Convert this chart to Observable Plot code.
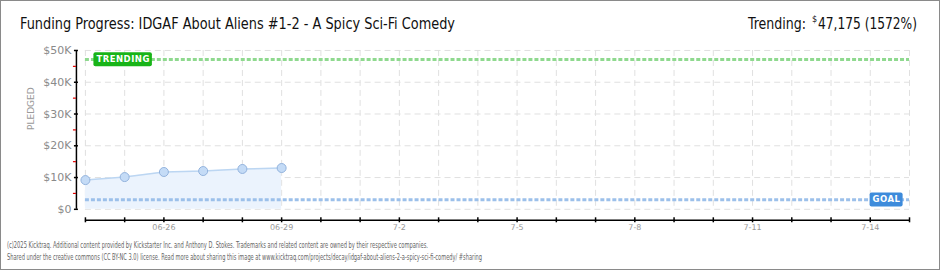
<!DOCTYPE html>
<html><head><meta charset="utf-8">
<script src="https://cdn.jsdelivr.net/npm/d3@7"></script>
<script src="https://cdn.jsdelivr.net/npm/@observablehq/plot@0.6"></script>
<style>
html,body{margin:0;padding:0;background:#fff;}
#wrap{position:relative;width:940px;height:270px;box-sizing:border-box;border:1px solid #8a8a8a;overflow:hidden;background:#fff;}
#head,#foot,#chart{position:absolute;left:-1px;}
#head{top:-1px;}
#chart{top:35px;}
#foot{top:235px;}
svg text{font-family:"DejaVu Sans",sans-serif;}
</style>
</head><body>
<div id="wrap">
  <svg id="head" width="940" height="36"></svg>
  <div id="chart"></div>
  <svg id="foot" width="940" height="34"></svg>
</div>
<script>
// ---- data ----
const titleText = "Funding Progress: IDGAF About Aliens #1-2 - A Spicy Sci-Fi Comedy";
const trendingLabel = "Trending:";
const trendingAmountText = "47,175 (1572%)";
const footerLines = [
  "(c)2025 Kicktraq. Additional content provided by Kickstarter Inc. and Anthony D. Stokes. Trademarks and related content are owned by their respective companies.",
  "Shared under the creative commons (CC BY-NC 3.0) license. Read more about sharing this image at www.kicktraq.com/projects/decay/idgaf-about-aliens-2-a-spicy-sci-fi-comedy/ #sharing"
];
const dates = ["2025-06-24","2025-06-25","2025-06-26","2025-06-27","2025-06-28","2025-06-29"];
const pledged = [9200, 10150, 11750, 12050, 12700, 13000];
const goal = 3000;
const trending = 47175;
const startDate = "2025-06-24";
const endDate = "2025-07-15";
const yTicks = [0, 10000, 20000, 30000, 40000, 50000];
const yTickLabels = ["$0","$10K","$20K","$30K","$40K","$50K"];
const yMinorTicks = [5000, 15000, 25000, 35000, 45000];
const xLabelDates = ["2025-06-26","2025-06-29","2025-07-02","2025-07-05","2025-07-08","2025-07-11","2025-07-14"];
const xLabels = ["06-26","06-29","7-2","7-5","7-8","7-11","7-14"];
const trendTag = "TRENDING";
const goalTag = "GOAL";

// ---- build ----
const parse = d3.utcParse("%Y-%m-%d");
const table = dates.map((d, i) => ({date: parse(d), value: pledged[i]}));
const start = parse(startDate), end = parse(endDate);
const dayTicks = d3.utcDay.range(start, d3.utcDay.offset(end, 1));
const yLabelMap = new Map(yTicks.map((v, i) => [v, yTickLabels[i]]));
const xLabelTicks = xLabelDates.map(parse);
const xLabelMap = new Map(xLabelTicks.map((d, i) => [+d, xLabels[i]]));

const chart = Plot.plot({
  width: 940, height: 200,
  marginTop: 14, marginBottom: 27, marginLeft: 85, marginRight: 30,
  x: {type: "utc", domain: [start, end]},
  y: {domain: [0, 50000]},
  style: {fontFamily: "DejaVu Sans, sans-serif", background: "transparent", overflow: "visible"},
  marks: [
    Plot.gridY(yTicks, {stroke: "#e0e0e0", strokeOpacity: 1, strokeDasharray: "6,4"}),
    Plot.gridX(dayTicks, {stroke: "#e0e0e0", strokeOpacity: 1, strokeDasharray: "6,4"}),
    Plot.areaY(table, {x: "date", y: "value", fill: "#ebf3fd"}),
    Plot.lineY(table, {x: "date", y: "value", stroke: "#bcd6f2", strokeWidth: 1.5}),
    Plot.ruleY([goal], {stroke: "#9cc0ea", strokeWidth: 3, strokeDasharray: "4,2"}),
    Plot.ruleY([trending], {stroke: "#8fd98f", strokeWidth: 3, strokeDasharray: "4,2"}),
    Plot.dot(table, {x: "date", y: "value", r: 4.5, fill: "#c4dbf6", stroke: "#92b2dc", strokeWidth: 1}),
    // y axis
    Plot.ruleX([start], {y1: 0, y2: 50000, dx: -9, stroke: "#000", strokeWidth: 1.5}),
    Plot.axisY(yTicks, {tickSize: 4, dx: -7, tickPadding: 3, label: null, stroke: "#000", strokeWidth: 1.5,
      tickFormat: d => yLabelMap.get(d), fill: "#8a8a8a", fontSize: 11}),
    Plot.axisY(yMinorTicks, {tickSize: 3, dx: -9, label: null, stroke: "#e00000", strokeWidth: 1.2, tickFormat: () => ""}),
    Plot.text(["PLEDGED"], {frameAnchor: "left", rotate: -90, dx: -54, fill: "#999", fontSize: 9, letterSpacing: "2"}),
    // x axis
    Plot.ruleY([0], {x1: start, x2: end, dy: 11, stroke: "#000", strokeWidth: 1.5}),
    Plot.axisX(dayTicks, {tickSize: 5, dy: 8.5, label: null, stroke: "#000", strokeWidth: 1.5, tickFormat: () => ""}),
    Plot.axisX(xLabelTicks, {tickSize: 0, tickPadding: 0, dy: 15, label: null, tickFormat: d => xLabelMap.get(+d), fill: "#999", fontSize: 8}),
    // labels
    Plot.text([{date: start, value: trending, t: trendTag}], {x: "date", y: "value", text: "t", textAnchor: "start", dx: 11,
      fill: "#fff", fontSize: 8.5, fontWeight: "bold"}),
    Plot.text([{date: end, value: goal, t: goalTag}], {x: "date", y: "value", text: "t", textAnchor: "end", dx: -9,
      fill: "#fff", fontSize: 8.5, fontWeight: "bold"})
  ]
});
document.getElementById("chart").appendChild(chart);

// boxes behind label texts
function boxBehind(label, color) {
  Array.from(chart.querySelectorAll("text")).filter(t => t.textContent === label).forEach(t => {
    t.setAttribute("letter-spacing", "0.5");
    const b = t.getBBox();
    const r = document.createElementNS("http://www.w3.org/2000/svg", "rect");
    r.setAttribute("x", b.x - 3); r.setAttribute("y", b.y + b.height / 2 - 7);
    r.setAttribute("width", b.width + 5); r.setAttribute("height", 14);
    r.setAttribute("rx", 2); r.setAttribute("fill", color);
    if (t.getAttribute("transform")) r.setAttribute("transform", t.getAttribute("transform"));
    t.parentNode.insertBefore(r, t);
  });
}
boxBehind(trendTag, "#18b418");
boxBehind(goalTag, "#3d8bdb");

// header
const head = d3.select("#head");
const hf = "'DejaVu Sans Condensed','DejaVu Sans',sans-serif";
head.append("text").attr("x", 20).attr("y", 29).attr("font-size", 15).attr("fill", "#111")
  .attr("textLength", 435).attr("lengthAdjust", "spacingAndGlyphs").style("font-family", hf).text(titleText);
head.append("text").attr("x", 748).attr("y", 29).attr("font-size", 15).attr("fill", "#111")
  .attr("textLength", 58).attr("lengthAdjust", "spacingAndGlyphs").style("font-family", hf).text(trendingLabel);
head.append("text").attr("x", 812).attr("y", 22).attr("font-size", 9).attr("fill", "#111")
  .style("font-family", hf).text("$");
head.append("text").attr("x", 818).attr("y", 29).attr("font-size", 15).attr("fill", "#111")
  .attr("textLength", 99).attr("lengthAdjust", "spacingAndGlyphs").style("font-family", hf).text(trendingAmountText);

// footer
const foot = d3.select("#foot");
const footLen = [421, 475];
footerLines.forEach((s, i) => {
  foot.append("text").attr("x", 7).attr("y", 12 + i * 12).attr("font-size", 9.5).attr("fill", "#666")
    .attr("textLength", footLen[i]).attr("lengthAdjust", "spacingAndGlyphs").style("font-family", hf).text(s);
});
</script>
</body></html>
